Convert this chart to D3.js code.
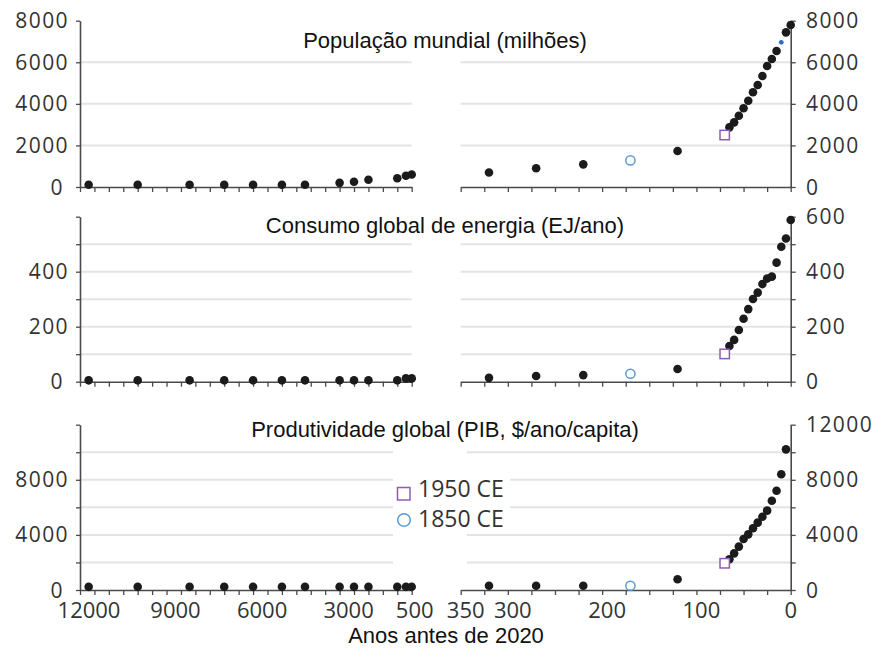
<!DOCTYPE html>
<html>
<head>
<meta charset="utf-8">
<script src="https://cdn.jsdelivr.net/npm/d3@7"></script>
<style>
  body{margin:0;background:#fff}
  .title{font-family:"Liberation Sans",Arial,sans-serif;font-size:22px;fill:#111}
  .ylab{font-family:"Open Sans",sans-serif;font-size:21px;letter-spacing:1.4px;fill:#333}
  .xlab{font-family:"Open Sans",sans-serif;font-size:22px;fill:#333}
  .legend{font-family:"Open Sans",sans-serif;font-size:23px;fill:#333}
</style>
</head>
<body>
<svg width="878" height="658"></svg>
<script>
// years before 2020
const yearsLeft = [11700, 10000, 8200, 7000, 6000, 5000, 4200, 3000, 2500, 2000, 1000, 700, 500]
const yearsRight = [320, 270, 220, 170, 120, 70, 65, 60, 55, 50, 45, 40, 35, 30, 25, 20, 15, 10, 5, 0]

const popLeft = [110, 110, 110, 110, 110, 110, 110, 200, 250, 350, 420, 540, 600]
const popRight = [700, 900, 1090, 1280, 1730, 2500, 2870, 3110, 3430, 3790, 4150, 4560, 4910, 5340, 5820, 6160, 6540, 6960, 7440, 7790]

const energyLeft = [5, 5, 5, 5, 5, 5, 5, 5, 5, 5, 5, 12, 12]
const energyRight = [14, 21, 24, 29, 46, 101, 130, 152, 188, 229, 264, 301, 324, 355, 375, 382, 433, 491, 521, 588]

const gdpLeft = [230, 230, 230, 230, 230, 230, 230, 230, 230, 230, 230, 230, 230]
const gdpRight = [310, 310, 310, 310, 780, 1940, 2230, 2660, 3150, 3700, 4040, 4480, 4890, 5320, 5760, 6480, 7210, 8400, 10210]

const popTicks = [0, 2000, 4000, 6000, 8000]
const popLabelsLeft = [0, 2000, 4000, 6000, 8000]
const popLabelsRight = [0, 2000, 4000, 6000, 8000]
const popGrid = [2000, 4000, 6000]

const energyTicks = [0, 100, 200, 300, 400, 500, 600]
const energyLabelsLeft = [0, 200, 400]
const energyLabelsRight = [0, 200, 400, 600]
const energyGrid = [100, 200, 300, 400, 500]

const gdpTicks = [0, 2000, 4000, 6000, 8000, 10000, 12000]
const gdpLabelsLeft = [0, 4000, 8000]
const gdpLabelsRight = [0, 4000, 8000, 12000]
const gdpGrid = [2000, 4000, 6000, 8000, 10000]

const xLabelsLeft = [12000, 9000, 6000, 3000, 500]
const xLabelsRight = [350, 300, 200, 100, 0]

const year1850 = 170, year1950 = 70, yearSmall = 10
const legendItems = ['1950 CE', '1850 CE']

const svg = d3.select('svg')
const xL = d3.scaleLinear().domain([12000, 500]).range([80, 411.7])
const xR = d3.scaleLinear().domain([350, 0]).range([460.7, 790.7])

const purple = '#8d5cb8', blue = '#5b9bd5', dotCol = '#1b1b1b', axisCol = '#4a4a4a'

const panels = [
  {title: 'População mundial (milhões)', titleY: 48, left: popLeft, right: popRight, yr: [187, 20.7], max: 8000,
   ticks: popTicks, labL: popLabelsLeft, labR: popLabelsRight, grid: popGrid, gl: [80, 411.7], gr: [460.7, 790.7], small: true},
  {title: 'Consumo global de energia (EJ/ano)', titleY: 233, left: energyLeft, right: energyRight, yr: [381.7, 216.7], max: 600,
   ticks: energyTicks, labL: energyLabelsLeft, labR: energyLabelsRight, grid: energyGrid, gl: [80, 411.7], gr: [460.7, 790.7]},
  {title: 'Produtividade global (PIB, $/ano/capita)', titleY: 437, left: gdpLeft, right: gdpRight, yr: [590, 424.7], max: 12000,
   ticks: gdpTicks, labL: gdpLabelsLeft, labR: gdpLabelsRight, grid: gdpGrid, gl: [80, 393], gr: [467, 790.7], last: true}
]

function drawPanel(p){
  const y = d3.scaleLinear().domain([0, p.max]).range(p.yr)
  const g = svg.append('g')

  // grid
  g.selectAll('.gl').data(p.grid).join('line')
    .attr('x1', p.gl[0]).attr('x2', p.gl[1])
    .attr('y1', d => y(d)).attr('y2', d => y(d))
    .attr('stroke', '#e4e4e4').attr('stroke-width', 2)
  g.selectAll('.gr').data(p.grid).join('line')
    .attr('x1', p.gr[0]).attr('x2', p.gr[1])
    .attr('y1', d => y(d)).attr('y2', d => y(d))
    .attr('stroke', '#e4e4e4').attr('stroke-width', 2)

  // x axes
  const axL = g.append('g').attr('transform', `translate(0,${y(0)})`)
    .call(d3.axisBottom(xL).tickValues(d3.range(500, 12001, 500)).tickSize(5).tickSizeOuter(0).tickFormat(''))
  const axR = g.append('g').attr('transform', `translate(0,${y(0)})`)
    .call(d3.axisBottom(xR).tickValues(d3.range(0, 351, 25)).tickSize(5).tickSizeOuter(0).tickFormat(''))

  // y axes
  const ayL = g.append('g').attr('transform', `translate(${xL(12000)},0)`)
    .call(d3.axisLeft(y).tickValues(p.ticks).tickSize(4).tickSizeOuter(0).tickFormat(''))
  const ayR = g.append('g').attr('transform', `translate(${xR(0)},0)`)
    .call(d3.axisRight(y).tickValues(p.ticks).tickSize(5).tickSizeOuter(0).tickFormat(''))

  ;[axL, axR, ayL, ayR].forEach(a => {
    a.select('.domain').attr('stroke', axisCol).attr('stroke-width', 1.6)
    a.selectAll('.tick line').attr('stroke', axisCol).attr('stroke-width', 1.3)
  })

  g.selectAll('.yl').data(p.labL).join('text').attr('class', 'ylab')
    .attr('x', d => d == 0 ? 64 : 69).attr('y', d => y(d)).attr('dy', '0.36em').attr('text-anchor', 'end')
    .text(d => d)
  g.selectAll('.yr').data(p.labR).join('text').attr('class', 'ylab')
    .attr('x', 806).attr('y', d => y(d)).attr('dy', '0.36em')
    .text(d => d)

  if(p.last){
    g.selectAll('.xl').data(xLabelsLeft).join('text').attr('class', 'xlab')
      .attr('x', d => xL(d) + (d == 500 ? 3 : 9)).attr('y', 618).attr('text-anchor', 'middle')
      .text(d => d)
    g.selectAll('.xr').data(xLabelsRight).join('text').attr('class', 'xlab')
      .attr('x', d => xR(d) + (d == 0 ? 0 : 5)).attr('y', 618).attr('text-anchor', 'middle')
      .text(d => d)
  }

  g.append('text').attr('class', 'title').attr('x', 445).attr('y', p.titleY)
    .attr('text-anchor', 'middle').text(p.title)

  // points
  g.selectAll('.pl').data(p.left).join('circle')
    .attr('cx', (d, i) => xL(yearsLeft[i])).attr('cy', d => y(d)).attr('r', 4.3).attr('fill', dotCol)

  const rightPts = p.right.map((v, i) => ({yr: yearsRight[i], v}))
  g.selectAll('.pr').data(rightPts.filter(d => d.yr != year1850 && d.yr != year1950 && !(p.small && d.yr == yearSmall)))
    .join('circle')
    .attr('cx', d => xR(d.yr)).attr('cy', d => y(d.v)).attr('r', 4.3).attr('fill', dotCol)

  rightPts.filter(d => d.yr == year1850).forEach(d => {
    g.append('circle').attr('cx', xR(d.yr)).attr('cy', y(d.v)).attr('r', 4.6)
      .attr('fill', 'none').attr('stroke', blue).attr('stroke-width', 1.5)
  })
  rightPts.filter(d => d.yr == year1950).forEach(d => {
    g.append('rect').attr('x', xR(d.yr) - 4.7).attr('y', y(d.v) - 4.7).attr('width', 9.4).attr('height', 9.4)
      .attr('fill', '#fff').attr('stroke', purple).attr('stroke-width', 1.5)
  })
  if(p.small){
    rightPts.filter(d => d.yr == yearSmall).forEach(d => {
      g.append('circle').attr('cx', xR(d.yr)).attr('cy', y(d.v)).attr('r', 2.4).attr('fill', '#2a6fbf')
    })
  }
}

panels.forEach(drawPanel)

// legend
const lg = svg.append('g')
lg.append('rect').attr('x', 394).attr('y', 470).attr('width', 116).attr('height', 56).attr('fill', '#fff')
lg.append('rect').attr('x', 397.5).attr('y', 487.5).attr('width', 12.5).attr('height', 12.5)
  .attr('fill', 'none').attr('stroke', purple).attr('stroke-width', 1.5)
lg.append('circle').attr('cx', 404).attr('cy', 520).attr('r', 6.3)
  .attr('fill', 'none').attr('stroke', blue).attr('stroke-width', 1.5)
lg.selectAll('.lt').data(legendItems).join('text').attr('class', 'legend')
  .attr('x', 418).attr('y', (d, i) => 497 + i * 30).text(d => d)

svg.append('text').attr('class', 'title').attr('x', 446).attr('y', 643)
  .attr('text-anchor', 'middle').attr('font-size', '20px').text('Anos antes de 2020')
</script>
</body>
</html>
